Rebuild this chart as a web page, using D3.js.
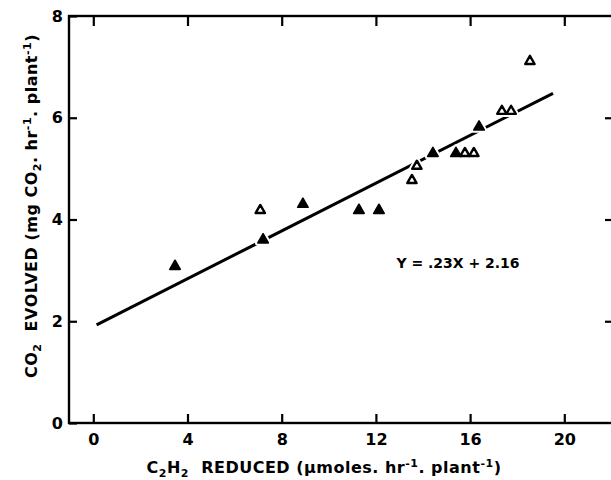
<!DOCTYPE html>
<html>
<head>
<meta charset="utf-8">
<script src="https://cdn.jsdelivr.net/npm/d3@7"></script>
<style>
    body { margin: 0; background: #fff; }
    text { font-family: "DejaVu Sans", sans-serif; font-weight: bold; fill: #000; }
</style>
</head>
<body>
<div id="chart"></div>
<script>
// data
const xTicks = [0, 4, 8, 12, 16, 20];
const yTicks = [0, 2, 4, 6, 8];

// solid triangles
const filledX = [3.47, 7.21, 8.90, 11.28, 12.13, 14.42, 15.40, 16.38];
const filledY = [3.08, 3.60, 4.30, 4.18, 4.18, 5.30, 5.30, 5.82];

// open triangles
const openX = [7.09, 13.53, 13.74, 15.78, 16.16, 17.35, 17.74, 18.54];
const openY = [4.18, 4.77, 5.05, 5.30, 5.30, 6.13, 6.13, 7.11];

// fitted line as drawn (ends)
const fitX = [0.14, 19.52];
const fitY = [1.93, 6.48];

const equation = 'Y = .23X + 2.16';

const width = 611;
const height = 480;

const svg = d3.select('#chart')
    .append('svg')
    .attr('width', width)
    .attr('height', height);

// scales
const x = d3.scaleLinear().domain([0, 20]).range([93.3, 564.3]);
const y = d3.scaleLinear().domain([0, 8]).range([423, 16]);

const frame = { left: 69, right: 613, top: 16, bottom: 423 };

// frame
svg.append('rect')
    .attr('x', frame.left).attr('y', frame.top)
    .attr('width', frame.right - frame.left).attr('height', frame.bottom - frame.top)
    .attr('fill', 'none').attr('stroke', '#000').attr('stroke-width', 2.4);

// axes with inward ticks
const gx = svg.append('g')
    .attr('transform', `translate(0, ${frame.bottom})`)
    .call(d3.axisBottom(x).tickValues(xTicks).tickSizeInner(-9).tickSizeOuter(0).tickPadding(11));

const gy = svg.append('g')
    .attr('transform', `translate(${frame.left}, 0)`)
    .call(d3.axisLeft(y).tickValues(yTicks).tickSizeInner(-8).tickSizeOuter(0).tickPadding(6));

const gt = svg.append('g')
    .attr('transform', `translate(0, ${frame.top})`)
    .call(d3.axisTop(x).tickValues(xTicks).tickSizeInner(-10).tickSizeOuter(0).tickFormat(''));

const gr = svg.append('g')
    .attr('transform', `translate(${frame.right}, 0)`)
    .call(d3.axisRight(y).tickValues([2, 4, 6]).tickSizeInner(-8).tickSizeOuter(0).tickFormat(''));

[gx, gy, gt, gr].forEach(g => {
    g.select('.domain').remove();
    g.selectAll('.tick line').attr('stroke', '#000').attr('stroke-width', 2.2);
    g.selectAll('.tick text')
        .style('font-family', '"DejaVu Sans", sans-serif')
        .style('font-weight', 'bold')
        .style('font-size', '16px');
});

// regression line
const fit = fitX.map((d, i) => [d, fitY[i]]);
svg.append('path')
    .datum(fit)
    .attr('d', d3.line().x(d => x(d[0])).y(d => y(d[1])))
    .attr('stroke', '#000')
    .attr('stroke-width', 3)
    .attr('fill', 'none');

// points
const tri = d3.symbol().type(d3.symbolTriangle);
const filled = filledX.map((d, i) => [d, filledY[i]]);
const open = openX.map((d, i) => [d, openY[i]]);

// white halo so the line breaks at the marks
svg.selectAll('.halo')
    .data(filled.concat(open))
    .enter()
    .append('path')
    .attr('class', 'halo')
    .attr('d', tri.size(55)())
    .attr('transform', d => `translate(${x(d[0])}, ${y(d[1])})`)
    .attr('fill', '#fff')
    .attr('stroke', '#fff')
    .attr('stroke-width', 5)
    .attr('stroke-linejoin', 'round');

svg.selectAll('.filled')
    .data(filled)
    .enter()
    .append('path')
    .attr('class', 'filled')
    .attr('d', tri.size(48)())
    .attr('transform', d => `translate(${x(d[0])}, ${y(d[1])})`)
    .attr('fill', '#000')
    .attr('stroke', '#000')
    .attr('stroke-width', 1.6)
    .attr('stroke-linejoin', 'round');

svg.selectAll('.open')
    .data(open)
    .enter()
    .append('path')
    .attr('class', 'open')
    .attr('d', tri.size(38)())
    .attr('transform', d => `translate(${x(d[0])}, ${y(d[1])})`)
    .attr('fill', '#fff')
    .attr('stroke', '#000')
    .attr('stroke-width', 2.4)
    .attr('stroke-linejoin', 'round');

// equation
svg.append('text')
    .attr('x', 458)
    .attr('y', 268)
    .attr('text-anchor', 'middle')
    .style('font-size', '14px')
    .text(equation);

// x title
const xt = svg.append('text')
    .attr('x', 324)
    .attr('y', 473)
    .attr('text-anchor', 'middle')
    .style('font-size', '16px')
    .style('letter-spacing', '0.5px');
xt.append('tspan').text('C');
xt.append('tspan').attr('dy', 4).style('font-size', '11px').text('2');
xt.append('tspan').attr('dy', -4).text('H');
xt.append('tspan').attr('dy', 4).style('font-size', '11px').text('2');
xt.append('tspan').attr('dy', -4).text('\u00a0\u00a0REDUCED (\u03bcmoles. hr');
xt.append('tspan').attr('dy', -6).style('font-size', '11px').text('-1');
xt.append('tspan').attr('dy', 6).text('. plant');
xt.append('tspan').attr('dy', -6).style('font-size', '11px').text('-1');
xt.append('tspan').attr('dy', 6).text(')');

// y title
const yt = svg.append('text')
    .attr('transform', 'translate(37, 206) rotate(-90)')
    .attr('text-anchor', 'middle')
    .style('font-size', '16px')
    .style('letter-spacing', '0.5px');
yt.append('tspan').text('CO');
yt.append('tspan').attr('dy', 4).style('font-size', '11px').text('2');
yt.append('tspan').attr('dy', -4).text('\u00a0 EVOLVED (mg CO');
yt.append('tspan').attr('dy', 4).style('font-size', '11px').text('2');
yt.append('tspan').attr('dy', -4).text('. hr');
yt.append('tspan').attr('dy', -6).style('font-size', '11px').text('-1');
yt.append('tspan').attr('dy', 6).text('. plant');
yt.append('tspan').attr('dy', -6).style('font-size', '11px').text('-1');
yt.append('tspan').attr('dy', 6).text(')');
</script>
</body>
</html>
